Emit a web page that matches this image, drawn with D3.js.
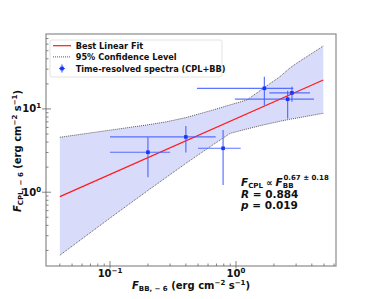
<!DOCTYPE html>
<html>
<head>
<meta charset="utf-8">
<script src="https://cdnjs.cloudflare.com/ajax/libs/d3/7.8.5/d3.min.js"></script>
<style>
  body { margin: 0; background: #fff; }
  text { font-family: "DejaVu Sans", sans-serif; font-weight: bold; fill: #111; }
</style>
</head>
<body>
<svg id="chart" width="374" height="299"></svg>
<script>
// time-resolved spectra (CPL+BB)
var fluxBB    = [0.20, 0.40, 0.79, 1.68, 2.78, 2.57];
var fluxBBLo  = [0.10, 0.10, 0.50, 0.49, 1.84, 0.98];
var fluxBBHi  = [0.30, 0.69, 1.09, 2.85, 3.87, 4.16];
var fluxCPL   = [3.02, 4.61, 3.37, 17.7, 15.6, 13.1];
var fluxCPLLo = [1.51, 2.99, 1.22, 11.1, 12.2, 7.7];
var fluxCPLHi = [4.57, 6.25, 5.60, 24.4, 18.5, 16.5];

// best linear fit (log-log) end points
var fitX = [0.04, 4.93];
var fitY = [0.885, 22.3];

// 95% confidence band
var bandX  = [0.04, 0.1, 0.2, 0.28, 0.4, 0.66, 0.9, 1.22, 1.65, 2.23, 2.68, 3.03, 4.93];
var bandLo = [0.175, 0.489, 1.05, 1.51, 2.22, 3.73, 5.1, 5.74, 6.43, 7.1, 7.52, 7.76, 8.87];
var bandHi = [4.57, 5.56, 6.45, 7.0, 7.87, 9.73, 11.2, 12.8, 17.7, 24.4, 31, 35.4, 57];

var xTicks = [0.1, 1];
var xTickLabels = [["10", "\u22121"], ["10", "0"]];
var yTicks = [1, 10];
var yTickLabels = [["10", "0"], ["10", "1"]];

var legendLabels = ["Best Linear Fit", "95% Confidence Level", "Time-resolved spectra (CPL+BB)"];

var svg = d3.select("#chart");
var pL = 46, pR = 336, pT = 34, pB = 266;

var x = d3.scaleLog().domain([0.03105, 6.22]).range([pL, pR]);
var y = d3.scaleLog().domain([0.130, 79.4]).range([pB, pT]);

// band
var band = bandX.map(function(d, i) { return {x: d, lo: bandLo[i], hi: bandHi[i]}; });
svg.append("path")
  .datum(band)
  .attr("fill", "#d9dbfa")
  .attr("d", d3.area().x(function(d) { return x(d.x); })
    .y0(function(d) { return y(d.lo); }).y1(function(d) { return y(d.hi); }));

["lo", "hi"].forEach(function(k) {
  svg.append("path")
    .datum(band)
    .attr("fill", "none")
    .attr("stroke", "#333")
    .attr("stroke-width", 0.8)
    .attr("stroke-dasharray", "1,1")
    .attr("d", d3.line().x(function(d) { return x(d.x); }).y(function(d) { return y(d[k]); }));
});

// fit line
svg.append("line")
  .attr("x1", x(fitX[0])).attr("y1", y(fitY[0]))
  .attr("x2", x(fitX[1])).attr("y2", y(fitY[1]))
  .attr("stroke", "#ff1a1a").attr("stroke-width", 1.2);

// error bars
var pts = fluxBB.map(function(d, i) {
  return {x: d, xl: fluxBBLo[i], xh: fluxBBHi[i], y: fluxCPL[i], yl: fluxCPLLo[i], yh: fluxCPLHi[i]};
});
var eb = svg.append("g").attr("stroke", "#3f5cff").attr("stroke-width", 1.2).attr("stroke-opacity", 0.85);
eb.selectAll(".h").data(pts).enter().append("line")
  .attr("x1", function(d) { return x(d.xl); }).attr("x2", function(d) { return x(d.xh); })
  .attr("y1", function(d) { return y(d.y); }).attr("y2", function(d) { return y(d.y); });
eb.selectAll(".v").data(pts).enter().append("line")
  .attr("x1", function(d) { return x(d.x); }).attr("x2", function(d) { return x(d.x); })
  .attr("y1", function(d) { return y(d.yl); }).attr("y2", function(d) { return y(d.yh); });
svg.selectAll(".pt").data(pts).enter().append("rect")
  .attr("x", function(d) { return x(d.x) - 1.8; }).attr("y", function(d) { return y(d.y) - 1.8; })
  .attr("width", 3.6).attr("height", 3.6).attr("fill", "#1535ff");

// frame
svg.append("rect").attr("x", pL).attr("y", pT)
  .attr("width", pR - pL).attr("height", pB - pT)
  .attr("fill", "none").attr("stroke", "#8a8a8a").attr("stroke-width", 1.2);

// ticks
var tk = svg.append("g").attr("stroke", "#666").attr("stroke-width", 0.8);
var xMinor = [], yMinor = [];
[0.01, 0.1, 1].forEach(function(dec) {
  for (var m = 2; m <= 9; m++) {
    var v = dec * m;
    if (v > x.domain()[0] && v < x.domain()[1]) xMinor.push(v);
  }
});
[0.1, 1, 10].forEach(function(dec) {
  for (var m = 2; m <= 9; m++) {
    var v = dec * m;
    if (v > y.domain()[0] && v < y.domain()[1]) yMinor.push(v);
  }
});
xMinor.forEach(function(v) {
  tk.append("line").attr("x1", x(v)).attr("x2", x(v)).attr("y1", pB).attr("y2", pB - 2.5);
});
yMinor.forEach(function(v) {
  tk.append("line").attr("y1", y(v)).attr("y2", y(v)).attr("x1", pL).attr("x2", pL + 2.5);
});
xTicks.forEach(function(v) {
  tk.append("line").attr("x1", x(v)).attr("x2", x(v)).attr("y1", pB + 2.5).attr("y2", pB - 5);
});
yTicks.forEach(function(v) {
  tk.append("line").attr("y1", y(v)).attr("y2", y(v)).attr("x1", pL - 4).attr("x2", pL + 5);
});

xTicks.forEach(function(v, i) {
  var t = svg.append("text").attr("x", x(v)).attr("y", 276.5).attr("text-anchor", "middle").attr("font-size", 10);
  t.append("tspan").text(xTickLabels[i][0]);
  t.append("tspan").attr("dy", -4).attr("font-size", 7).text(xTickLabels[i][1]);
});
yTicks.forEach(function(v, i) {
  var t = svg.append("text").attr("x", 41).attr("y", y(v) + 3.5).attr("text-anchor", "end").attr("font-size", 10);
  t.append("tspan").text(yTickLabels[i][0]);
  t.append("tspan").attr("dy", -4).attr("font-size", 7).text(yTickLabels[i][1]);
});

// axis labels
function fluxLabel(t, sub) {
  t.append("tspan").attr("font-style", "italic").text("F");
  t.append("tspan").attr("dy", 2).attr("font-size", 7).text(sub);
  t.append("tspan").attr("dy", -2).text(" (erg cm");
  t.append("tspan").attr("dy", -4).attr("font-size", 7).text("\u22122");
  t.append("tspan").attr("dy", 4).text(" s");
  t.append("tspan").attr("dy", -4).attr("font-size", 7).text("\u22121");
  t.append("tspan").attr("dy", 4).text(")");
}
fluxLabel(svg.append("text").attr("x", 191).attr("y", 288.5).attr("text-anchor", "middle").attr("font-size", 10), "BB, \u2212 6");
fluxLabel(svg.append("text").attr("transform", "translate(21,151) rotate(-90)").attr("text-anchor", "middle").attr("font-size", 10), "CPL, \u2212 6");

// annotation
var a1 = svg.append("text").attr("x", 241).attr("y", 186).attr("font-size", 10.5);
a1.append("tspan").attr("font-style", "italic").text("F");
a1.append("tspan").attr("dy", 2).attr("font-size", 7).text("CPL");
a1.append("tspan").attr("dy", -2).attr("font-size", 9).text("  \u221d  ");
a1.append("tspan").attr("font-style", "italic").text("F");
a1.append("tspan").attr("dy", 2).attr("font-size", 7).text("BB");
a1.append("tspan").attr("dx", -10).attr("dy", -8).attr("font-size", 7).text("0.67 \u00b1 0.18");
var a2 = svg.append("text").attr("x", 241).attr("y", 198).attr("font-size", 10.5);
a2.append("tspan").attr("font-style", "italic").text("R");
a2.append("tspan").text(" = 0.884");
var a3 = svg.append("text").attr("x", 241).attr("y", 208.5).attr("font-size", 10.5);
a3.append("tspan").attr("font-style", "italic").text("p");
a3.append("tspan").text(" = 0.019");

// legend
var lg = svg.append("g");
lg.append("rect").attr("x", 50).attr("y", 40).attr("width", 172).attr("height", 37).attr("rx", 2)
  .attr("fill", "#fff").attr("fill-opacity", 0.85).attr("stroke", "#dcdcdc").attr("stroke-width", 0.8);
var rowY = [45.7, 56.9, 68.5];
lg.append("line").attr("x1", 53).attr("x2", 71).attr("y1", rowY[0]).attr("y2", rowY[0])
  .attr("stroke", "#ff1a1a").attr("stroke-width", 1.2);
lg.append("line").attr("x1", 53).attr("x2", 71).attr("y1", rowY[1]).attr("y2", rowY[1])
  .attr("stroke", "#333").attr("stroke-width", 0.8).attr("stroke-dasharray", "1,1");
lg.append("line").attr("x1", 59).attr("x2", 65).attr("y1", rowY[2]).attr("y2", rowY[2])
  .attr("stroke", "#3f5cff").attr("stroke-width", 1.2);
lg.append("line").attr("x1", 62).attr("x2", 62).attr("y1", rowY[2] - 4).attr("y2", rowY[2] + 4)
  .attr("stroke", "#3f5cff").attr("stroke-width", 1.2);
lg.append("rect").attr("x", 60.2).attr("y", rowY[2] - 1.8).attr("width", 3.6).attr("height", 3.6).attr("fill", "#1535ff");
legendLabels.forEach(function(s, i) {
  lg.append("text").attr("x", 75.7).attr("y", rowY[i] + 3).attr("font-size", 8.2).text(s);
});
</script>
</body>
</html>
